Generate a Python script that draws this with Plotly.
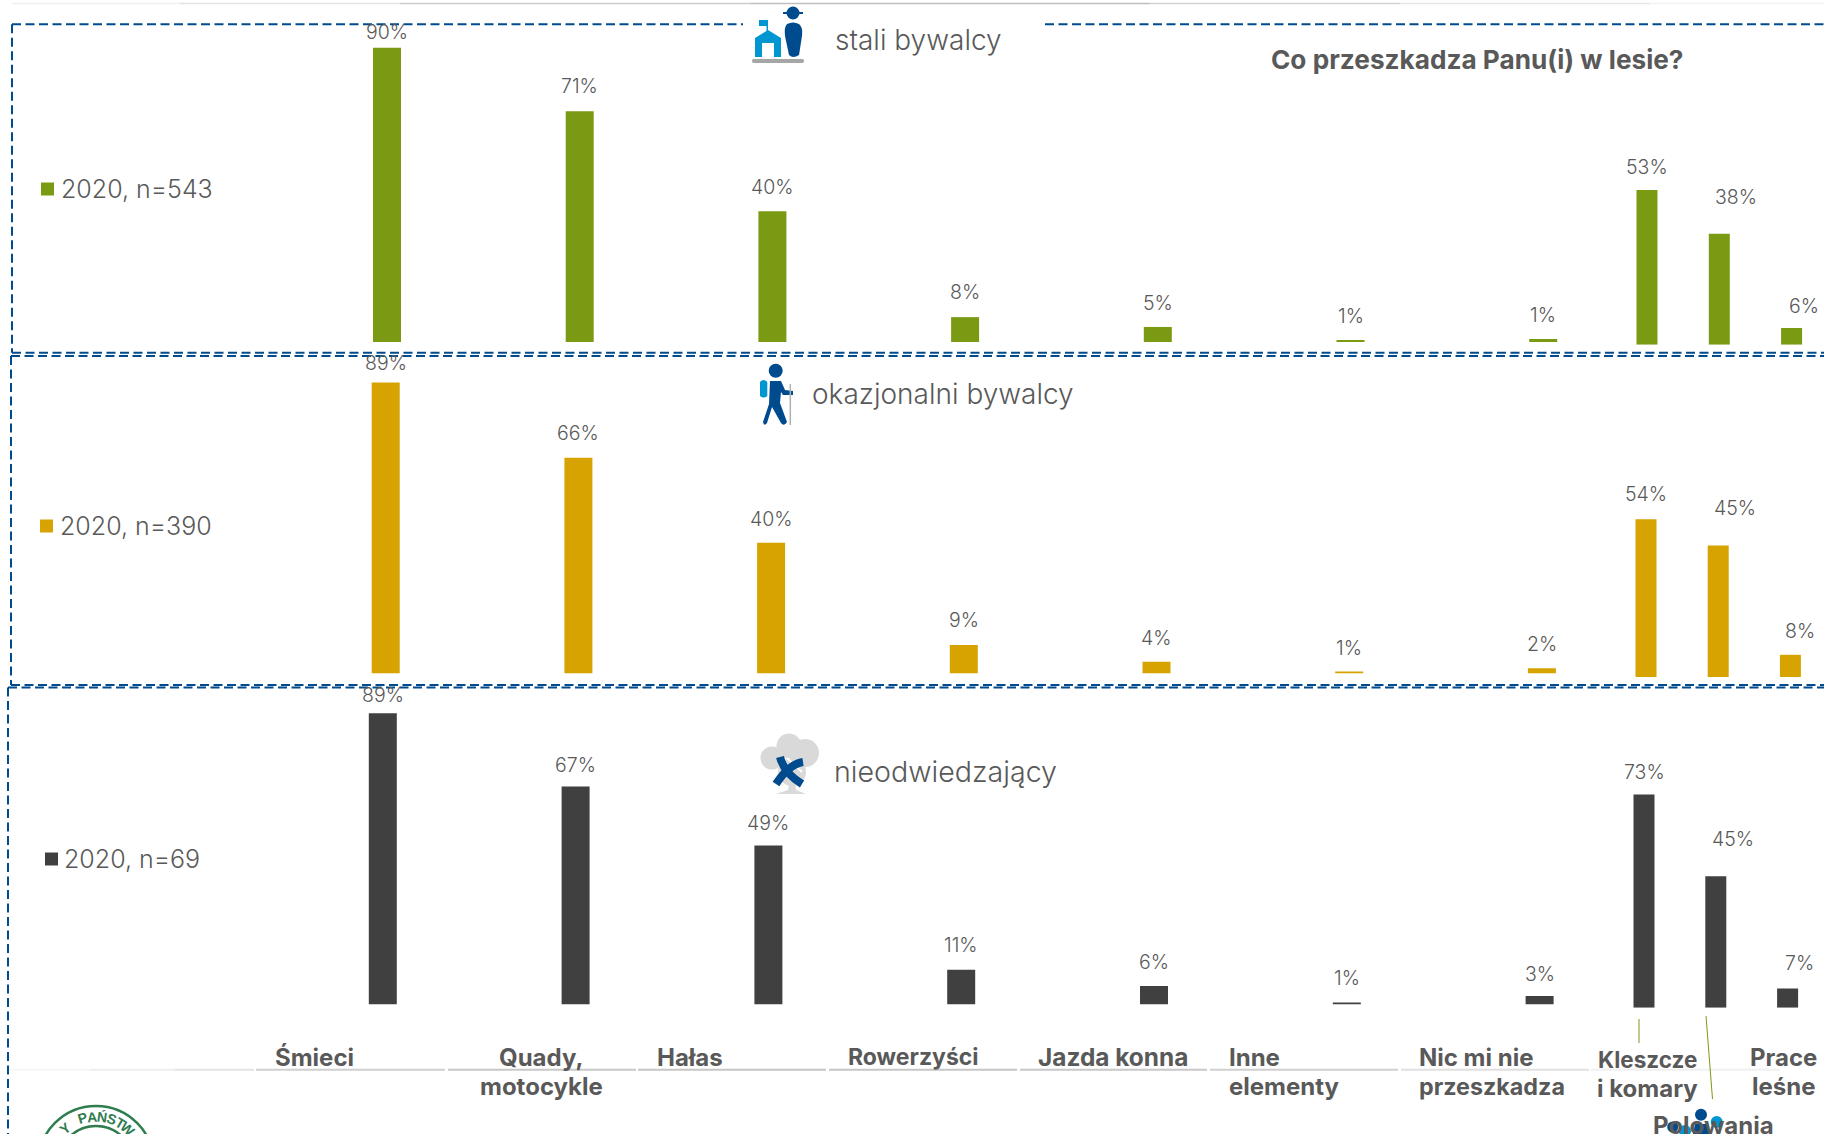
import math
import plotly.graph_objects as go

W, H = 1824, 1134

# ---------- data ----------
categories_main = ["Śmieci", "Quady, motocykle", "Hałas", "Rowerzyści", "Jazda konna", "Inne elementy", "Nic mi nie przeszkadza"]
categories_side = ["Kleszcze i komary", "Polowania", "Prace leśne"]

frequent_main = [90, 70.6, 40, 7.6, 4.6, 0.6, 0.9]
frequent_side = [53, 38, 5.7]
occasional_main = [89, 66, 40, 8.7, 3.6, 0.6, 1.6]
occasional_side = [54, 45, 7.6]
nonvisitor_main = [89, 66.6, 48.6, 10.6, 5.6, 0.6, 2.6]
nonvisitor_side = [73, 45, 6.6]

legend_names = ["2020, n=543", "2020, n=390", "2020, n=69"]
group_names = ["stali bywalcy", "okazjonalni bywalcy", "nieodwiedzający"]
chart_title = "Co przeszkadza Panu(i) w lesie?"

# ---------- style / layout ----------
GREEN, GOLD, DARK = "#7a9a14", "#d6a300", "#404040"
BLUE, LBLUE, TXT = "#004b8d", "#0096d1", "#595959"
FONT = "Inter"
THIN = 300

panels = [
    dict(main=frequent_main, side=frequent_side, color=GREEN, base=342.0, base_s=344.7,
         c0=387.0, step=192.7, c0_s=1647.0, step_s=72.3,
         up=[16, 25, 24, 25, 24, 24, 24], up_s=[23, 37, 22], dx_s=[0, 17, 12]),
    dict(main=occasional_main, side=occasional_side, color=GOLD, base=673.5, base_s=677.0,
         c0=385.7, step=192.7, c0_s=1646.0, step_s=72.2,
         up=[19, 25, 24, 25, 24, 24, 24], up_s=[25, 38, 24], dx_s=[0, 17, 10]),
    dict(main=nonvisitor_main, side=nonvisitor_side, color=DARK, base=1004.4, base_s=1007.7,
         c0=382.8, step=192.8, c0_s=1644.0, step_s=71.8,
         up=[18, 22, 22, 25, 24, 24, 22], up_s=[23, 37, 25], dx_s=[0, 17, 12]),
]
PX_MAIN, PX_SIDE = 3.27, 2.92
YMAX = 100

fig = go.Figure()
layout = {}
annotations = []
ax = 0


def add_chart(cats, vals, color, base, ppp, c0, step, barw, up, dx):
    global ax
    ax += 1
    sfx = "" if ax == 1 else str(ax)
    left = c0 - step / 2
    right = min(W, left + len(cats) * step)
    layout[f"xaxis{sfx}"] = dict(
        type="category", categoryorder="array", categoryarray=cats,
        domain=[left / W, right / W], range=[-0.5, -0.5 + (right - left) / step],
        visible=False, anchor=f"y{sfx}", fixedrange=True)
    layout[f"yaxis{sfx}"] = dict(
        domain=[(H - base) / H, (H - base + ppp * YMAX) / H], range=[0, YMAX],
        visible=False, anchor=f"x{sfx}", fixedrange=True)
    fig.add_bar(x=cats, y=vals, width=barw / step, marker=dict(color=color, line_width=0),
                xaxis=f"x{sfx}", yaxis=f"y{sfx}", showlegend=False, hoverinfo="skip")
    for c, v, u, d in zip(cats, vals, up, dx):
        annotations.append(dict(x=c, y=v, xref=f"x{sfx}", yref=f"y{sfx}", text=f"{v:.0f}%",
                                showarrow=False, yshift=u, xshift=d, xanchor="center", yanchor="middle",
                                font=dict(family=FONT, size=19.5, color=TXT, weight=THIN)))


for p in panels:
    add_chart(categories_main, p["main"], p["color"], p["base"], PX_MAIN, p["c0"], p["step"], 28,
              p["up"], [0] * 7)
    add_chart(categories_side, p["side"], p["color"], p["base_s"], PX_SIDE, p["c0_s"], p["step_s"], 21,
              p["up_s"], p["dx_s"])

# overlay axis in canvas pixels, used for page furniture
layout["xaxis7"] = dict(domain=[0, 1], range=[0, W], visible=False, anchor="y7", fixedrange=True)
layout["yaxis7"] = dict(domain=[0, 1], range=[H, 0], visible=False, anchor="x7", fixedrange=True)
fig.add_scatter(x=[0], y=[0], xaxis="x7", yaxis="y7", mode="markers", marker=dict(opacity=0),
                showlegend=False, hoverinfo="skip")
R = dict(xref="x7", yref="y7")
shapes = []


def text(x, y, s, size, color=TXT, anchor="left", weight=None, yanchor="middle", angle=0, family=FONT):
    annotations.append(dict(x=x, y=y, text=s, showarrow=False, xanchor=anchor, yanchor=yanchor,
                            textangle=angle, borderpad=0, **R,
                            font=dict(family=family, size=size, color=color, weight=weight)))


def line(x0, y0, x1, y1, color, width=1, dash=None):
    shapes.append(dict(type="line", x0=x0, y0=y0, x1=x1, y1=y1, layer="above",
                       line=dict(color=color, width=width, dash=dash), **R))


def rect(x0, y0, x1, y1, color):
    shapes.append(dict(type="rect", x0=x0, y0=y0, x1=x1, y1=y1, layer="above",
                       fillcolor=color, line_width=0, **R))


def circle(cx, cy, r, color, outline=None, lw=0):
    shapes.append(dict(type="circle", x0=cx - r, y0=cy - r, x1=cx + r, y1=cy + r, layer="above",
                       fillcolor=color, line=dict(color=outline or color, width=lw), **R))


def path(d, color=None, stroke=None, lw=0):
    shapes.append(dict(type="path", path=d, layer="above", fillcolor=color if color else "rgba(0,0,0,0)",
                       line=dict(color=stroke or "rgba(0,0,0,0)", width=lw), **R))


# top and axis rules with faded ends
for x0, x1, c in [(12, 180, "#f0f0f0"), (180, 400, "#e2e2e2"), (400, 750, "#cdcdcd"), (750, 1150, "#bfbfbf"),
                  (1150, 1400, "#d2d2d2"), (1400, 1650, "#e6e6e6"), (1650, 1824, "#f3f3f3")]:
    line(x0, 3.5, x1, 3.5, c, 1.5)
for x0, x1, c in [(10, 90, "#f6f6f6"), (90, 175, "#eeeeee"), (175, 254, "#e3e3e3"), (256, 445, "#d0d0d0"),
                  (448, 636, "#c8c8c8"), (638, 826, "#c6c6c6"), (829, 1017, "#c6c6c6"), (1020, 1207, "#c8c8c8"),
                  (1210, 1398, "#d0d0d0"), (1401, 1589, "#e0e0e0"), (1591, 1780, "#f0f0f0")]:
    line(x0, 1069.7, x1, 1069.7, c, 2)

# dashed panel frames
DASH = "9px,4.5px"
line(12, 24.3, 743, 24.3, BLUE, 2, DASH)
line(1045, 24.3, W, 24.3, BLUE, 2, DASH)
line(12, 24.3, 12, 352.7, BLUE, 2, DASH)
line(12, 352.7, W, 352.7, BLUE, 2, DASH)
line(11, 356, W, 356, BLUE, 2, DASH)
line(11, 356, 11, 685, BLUE, 2, DASH)
line(11, 685, W, 685, BLUE, 2, DASH)
line(8, 687.5, W, 687.5, BLUE, 2, DASH)
line(8, 687.5, 8, H, BLUE, 2, DASH)

# title, group names, legends
text(1270, 59, f"<b>{chart_title}</b>", 26.2)
text(834, 39.5, group_names[0], 28, weight=THIN)
text(811, 394, group_names[1], 28, weight=THIN)
text(833, 771, group_names[2], 28.6, weight=THIN)
for (sx, sy, tx), name, c in zip([(41, 189, 59.5), (40, 526, 58.5), (45, 859, 62.5)], legend_names, [GREEN, GOLD, DARK]):
    rect(sx, sy - 6.5, sx + 13, sy + 6.5, c)
    text(tx, sy, name, 25, weight=THIN)

# category labels
for x, y, s, a, sz in [(274, 1057, "Śmieci", "left", 24), (656, 1057, "Hałas", "left", 24),
                       (847, 1057, "Rowerzyści", "left", 23), (1037, 1057, "Jazda konna", "left", 24.4),
                       (541, 1057, "Quady,", "center", 24), (541, 1086, "motocykle", "center", 24),
                       (1228, 1057, "Inne", "left", 24), (1228, 1086, "elementy", "left", 24),
                       (1418, 1057, "Nic mi nie", "left", 24), (1418, 1086, "przeszkadza", "left", 23.3),
                       (1647, 1059, "Kleszcze", "center", 22.5), (1647, 1088, "i komary", "center", 24),
                       (1783, 1057, "Prace", "center", 24), (1783, 1086, "leśne", "center", 24)]:
    text(x, y, f"<b>{s}</b>", sz, anchor=a)

# leader lines
line(1639, 1019, 1639, 1043, GREEN, 1)
line(1706, 1016, 1712.5, 1099, GREEN, 1)

# icon: regular visitor (school + ranger)
rect(766.5, 20, 768, 32, LBLUE)
rect(759, 20, 768, 26, LBLUE)
path("M 755 57 L 755 38 L 768 30 L 781 38 L 781 57 L 774 57 L 774 43 L 762 43 L 762 57 Z", LBLUE)
circle(793, 13, 6.5, BLUE)
path("M 783 12 L 803 12 L 803 14 L 783 14 Z", BLUE)
path("M 787 24 Q 793 21 799 24 Q 803 27 802 36 L 799 55 Q 793 59 789 55 L 785 36 Q 784 27 787 24 Z", BLUE)
path("M 753 59 L 803 59 Q 805 61 803 63 L 753 63 Q 751 61 753 59 Z", "#a6a6a6")

# icon: hiker
circle(775.7, 370.7, 7, BLUE)
path("M 760 382 Q 763.6 378 767.3 382 L 767.3 396 Q 763.6 399 760 396 Z", LBLUE)
path("M 770 381 L 781 381 L 785 390 L 793 391 L 793 395 L 783 395 L 781 392 L 780 403 "
     "L 787 422 Q 784 427 781 423 L 772 407 L 767 423 Q 764 427 763 422 L 769 404 Z", BLUE)
line(790.3, 384, 790.3, 425, "#b0b0b0", 1.5)

# icon: non-visitor (tree + cross)
for cx, cy, r in [(772, 758, 11.5), (789, 746, 12.5), (805, 753, 14), (792, 772, 14)]:
    circle(cx, cy, r, "#d9d9d9")
path("M 790 780 L 795 780 L 796 790 L 806 794 L 776 794 L 788 790 Z", "#d9d9d9")
line(787, 758, 802, 772, "#ffffff", 2)
path("M 780 757 Q 784 773 802 784", None, BLUE, 8)
path("M 803 762 Q 789 764 776 784", None, BLUE, 8)

# bottom-right icon behind "Polowania"
circle(1701, 1114.7, 6, BLUE)
circle(1672.7, 1127, 5.5, BLUE)
circle(1716.7, 1122, 6, LBLUE)
circle(1685, 1131, 6, LBLUE)
path("M 1695 1124 L 1707 1124 L 1709 1134 L 1693 1134 Z", BLUE)
text(1713, 1125, "<b>Polowania</b>", 24, anchor="center")

# seal
SEAL = "#2f7d4f"
circle(96, 1164, 58, "rgba(0,0,0,0)", SEAL, 2.5)
circle(96, 1164, 38, "rgba(0,0,0,0)", SEAL, 2.5)
for i, ch in enumerate("Y PAŃSTWO"):
    a = -40 + i * 11.75
    if ch != " ":
        text(96 + 47.5 * math.sin(math.radians(a)), 1164 - 47.5 * math.cos(math.radians(a)), f"<b>{ch}</b>", 14,
             color=SEAL, anchor="center", angle=a, family="Liberation Sans")

fig.update_layout(width=W, height=H, margin=dict(l=0, r=0, t=0, b=0), paper_bgcolor="white",
                  plot_bgcolor="rgba(0,0,0,0)", barmode="overlay", shapes=shapes, annotations=annotations,
                  hovermode=False, showlegend=False, **layout)
fig.write_html("out.html", post_script="document.body.style.margin='0';", config={"displayModeBar": False})
